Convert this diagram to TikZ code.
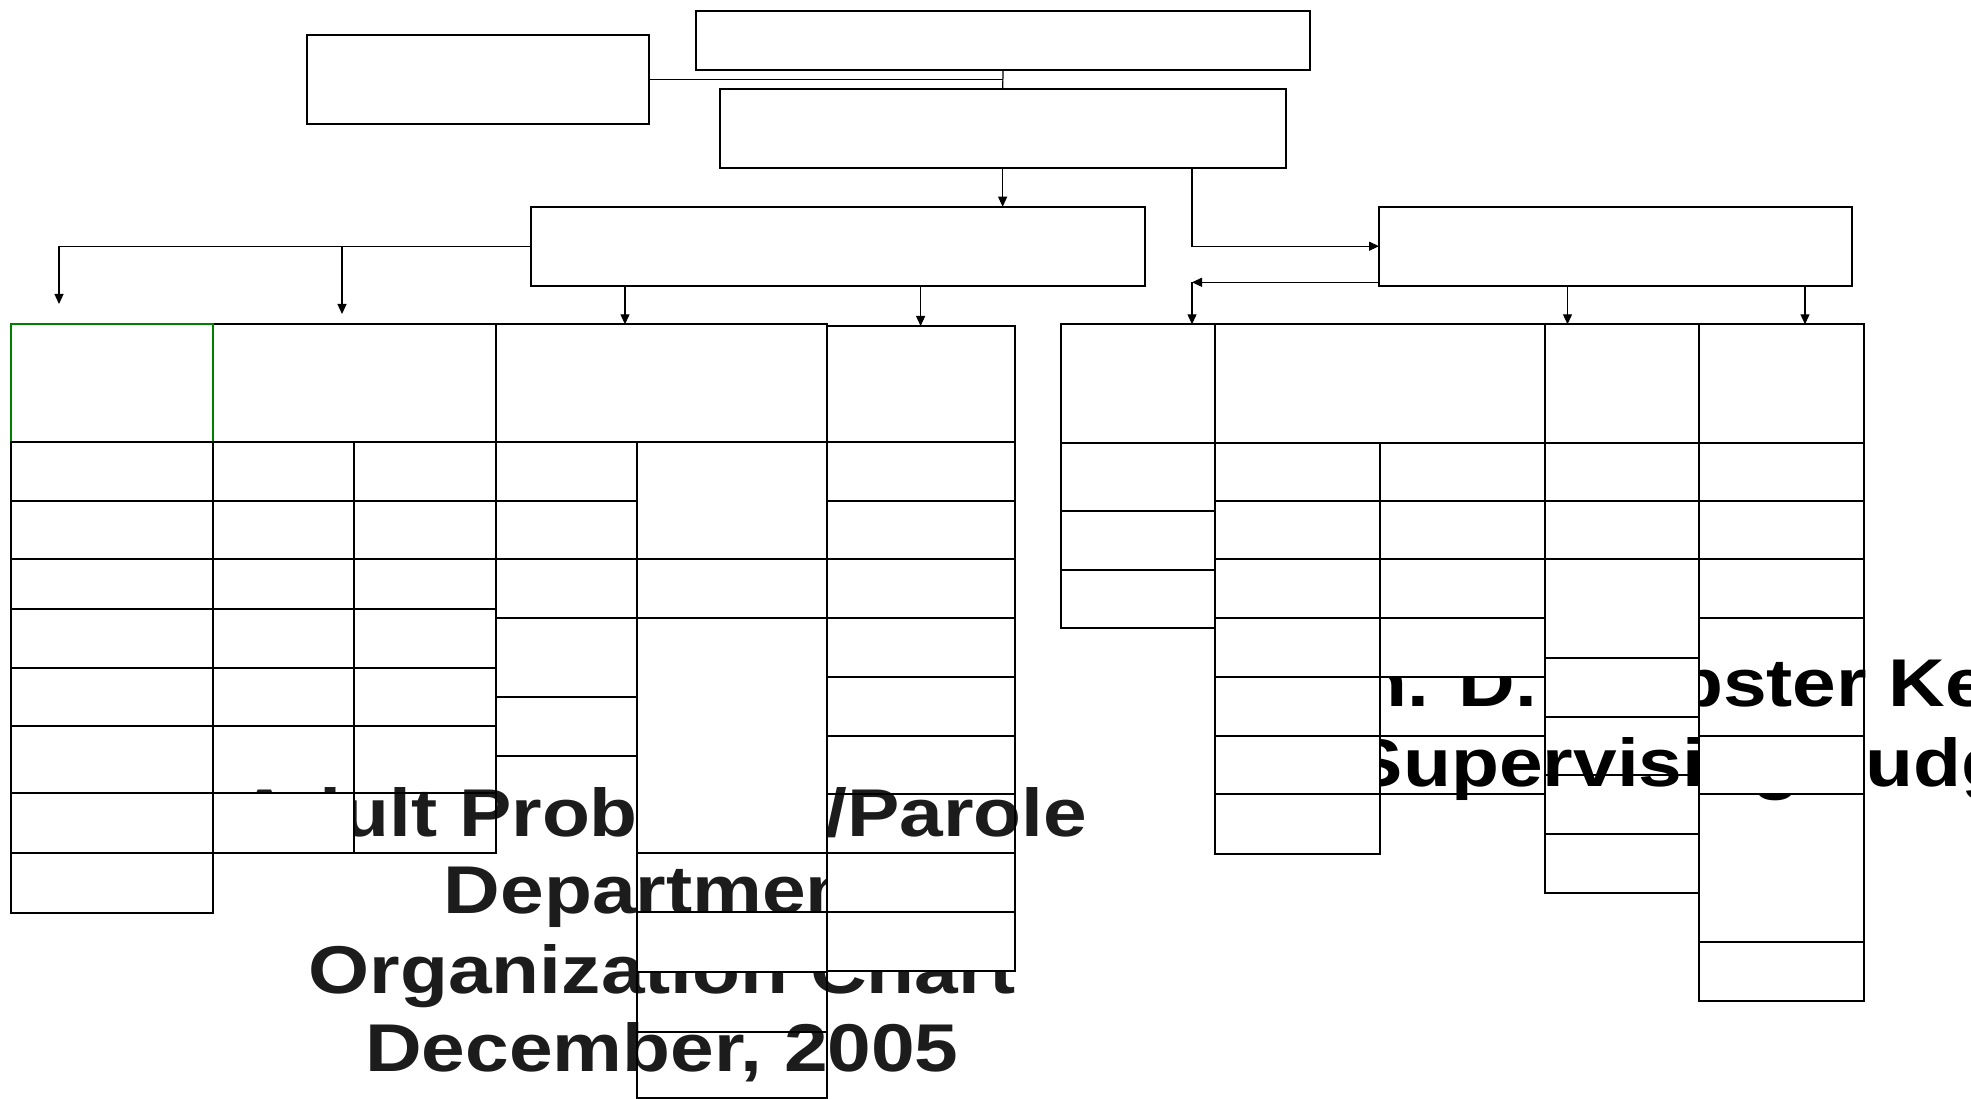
\documentclass[tikz,border=0pt]{standalone}
\usepackage{fontspec}
\setmainfont{Liberation Sans}
\usepackage{graphicx}
\usetikzlibrary{arrows.meta,calc}
\definecolor{hgreen}{RGB}{0,128,0}
\definecolor{titlegray}{RGB}{28,28,28}
\newcommand{\cellnode}[6][]{%
  \pgfmathsetmacro{\cellcx}{(#3+#5)/2}%
  \pgfmathsetmacro{\cellcy}{(#4+#6)/2}%
  \pgfmathsetmacro{\cellw}{#5-#3}%
  \pgfmathsetmacro{\cellh}{#6-#4}%
  \node[cellbox,minimum width=\cellw pt,minimum height=\cellh pt,#1] (#2) at (\cellcx,\cellcy) {};%
}
\begin{document}
\begin{tikzpicture}[x=1pt,y=-1pt,
  cellbox/.style={rectangle,draw=black,line width=2pt,fill=white,inner sep=0pt,outer sep=0pt},
  openbox/.style={fill=none},
  conn/.style={draw=black,line width=1.2pt},
  arr/.style={conn,-{Triangle[length=10pt,width=9pt]}},
  titletext/.style={inner sep=0pt,outer sep=0pt,anchor=base,font=\fontsize{67.6pt}{78pt}\selectfont\bfseries}
]
\useasboundingbox[fill=white] (0,0) rectangle (1971,1099);

% ---------- top boxes ----------
\cellnode{B1}{696.4}{10.7}{1309.8}{69.7}
\cellnode{B2}{307}{35}{649}{123.7}
\cellnode{B3}{719.6}{89}{1285.7}{168}
\cellnode{B4}{531}{206.7}{1144.6}{285.7}
\cellnode{B5}{1379}{206.7}{1851.6}{285.7}

% ---------- left group ----------
\cellnode{H2}{213}{324.3}{495.6}{441.7}
\cellnode{H3}{495.6}{324.3}{826.5}{441.7}
\cellnode{H4}{826.5}{326}{1014.7}{441.7}
\cellnode[draw=hgreen]{H1}{11.4}{324.3}{213}{441.7}
% column A
\cellnode{a1}{11.4}{441.7}{213}{501}
\cellnode{a2}{11.4}{501}{213}{559.3}
\cellnode{a3}{11.4}{559.3}{213}{608.7}
\cellnode{a4}{11.4}{608.7}{213}{667.7}
\cellnode{a5}{11.4}{667.7}{213}{726}
\cellnode{a6}{11.4}{726}{213}{793.3}
\cellnode{a7}{11.4}{793.3}{213}{853.3}
\cellnode{a8}{11.4}{853.3}{213}{912.7}
% column B
\cellnode{b1}{213}{441.7}{353.7}{501}
\cellnode{b2}{213}{501}{353.7}{559.3}
\cellnode{b3}{213}{559.3}{353.7}{608.7}
\cellnode{b4}{213}{608.7}{353.7}{667.7}
\cellnode{b5}{213}{667.7}{353.7}{726}
% column C
\cellnode{c1}{353.7}{441.7}{495.6}{501}
\cellnode{c2}{353.7}{501}{495.6}{559.3}
\cellnode{c3}{353.7}{559.3}{495.6}{608.7}
\cellnode{c4}{353.7}{608.7}{495.6}{667.7}
\cellnode{c5}{353.7}{667.7}{495.6}{726}
% column D
\cellnode{d1}{495.6}{441.7}{637}{501}
\cellnode{d2}{495.6}{501}{637}{559.3}
\cellnode{d3}{495.6}{559.3}{637}{618.3}
\cellnode{d4}{495.6}{618.3}{637}{696.7}
\cellnode{d5}{495.6}{696.7}{637}{755.7}
\cellnode{d6}{495.6}{755.7}{637}{853.3}
% column E
\cellnode{e1}{637}{441.7}{826.5}{559.3}
\cellnode{e2}{637}{559.3}{826.5}{618.3}
% column F
\cellnode{f1}{826.5}{441.7}{1014.7}{501}
\cellnode{f2}{826.5}{501}{1014.7}{559.3}
\cellnode{f3}{826.5}{559.3}{1014.7}{618.3}
\cellnode{f4}{826.5}{618.3}{1014.7}{676.7}
\cellnode{f5}{826.5}{676.7}{1014.7}{736}

% ---------- right group ----------
\cellnode{PH}{1061.4}{324.3}{1215.2}{442.7}
\cellnode{QH}{1215.2}{324.3}{1545.3}{442.7}
\cellnode{SH}{1545.3}{324.3}{1699.2}{442.7}
\cellnode{TH}{1699.2}{324.3}{1863.6}{442.7}
\cellnode{p1}{1061.4}{442.7}{1215.2}{510.7}
\cellnode{p2}{1061.4}{510.7}{1215.2}{570}
\cellnode{p3}{1061.4}{570}{1215.2}{628.3}
\cellnode{q1}{1215.2}{442.7}{1380.3}{501}
\cellnode{q2}{1215.2}{501}{1380.3}{559.3}
\cellnode{q3}{1215.2}{559.3}{1380.3}{618.3}
\cellnode{q7}{1215.2}{794.3}{1380.3}{854}
\cellnode{r1}{1380.3}{442.7}{1545.3}{501}
\cellnode{r2}{1380.3}{501}{1545.3}{559.3}
\cellnode{r3}{1380.3}{559.3}{1545.3}{618.3}
\cellnode{r5}{1380.3}{676.7}{1545.3}{735.7}
\cellnode{r6}{1380.3}{735.7}{1545.3}{794.3}
\cellnode{s1}{1545.3}{442.7}{1699.2}{501}
\cellnode{s2}{1545.3}{501}{1699.2}{559.3}
\cellnode{s3}{1545.3}{559.3}{1699.2}{657.7}
\cellnode{s5}{1545.3}{716.7}{1699.2}{775}
\cellnode{s6}{1545.3}{775}{1699.2}{834.3}
\cellnode{s7}{1545.3}{834.3}{1699.2}{893.3}
\cellnode{t1}{1699.2}{442.7}{1863.6}{501}
\cellnode{t2}{1699.2}{501}{1863.6}{559.3}
\cellnode{t3}{1699.2}{559.3}{1863.6}{618.3}
\cellnode{t4}{1699.2}{618.3}{1863.6}{735.7}
\cellnode{t6}{1699.2}{794.3}{1863.6}{942.3}
\cellnode{t7}{1699.2}{942.3}{1863.6}{1000.7}

% ---------- connectors ----------
\coordinate (xA) at (59,304);
\coordinate (xB) at (342,314);
\coordinate (xH3) at (625,0);
\coordinate (xJ) at (1192,0);
\coordinate (j5) at (1192,282.3);
\coordinate (xS) at (1567.5,0);
\coordinate (xT) at (1805,0);
\draw[conn] (B1.south) -- (B3.north);
\draw[conn] (B2.east) -- (B2.east -| B1.south);
\draw[arr] (B3.south) -- (B3.south |- B4.north);
\draw[arr] (B3.south -| xJ) |- (B5.west);
\draw[arr] (B4.west) -| (xA);
\draw[arr] (B4.west -| xB) -- (xB);
\draw[arr] (B4.south -| xH3) -- (H3.north -| xH3);
\draw[arr] (B4.south -| H4.north) -- (H4.north);
\draw[arr] (B5.west |- j5) -- (j5);
\draw[arr] (j5) -- (j5 |- PH.north);
\draw[arr] (B5.south -| xS) -- (SH.north -| xS);
\draw[arr] (B5.south -| xT) -- (TH.north -| xT);

% ---------- title text frame and titles ----------
\node[fill=white,inner sep=0pt,outer sep=0pt,minimum width=815pt,minimum height=324pt,anchor=north west] (titleframe) at (225,775) {};
\node[titletext,text=titlegray] (tl1) at (662,836) {\scalebox{1.161}[1]{Adult Probation/Parole}};
\node[titletext,text=titlegray] (tl2) at (662,913.3) {\scalebox{1.161}[1]{Department}};
\node[titletext,text=titlegray] (tl3) at (662,993.3) {\scalebox{1.161}[1]{Organization Chart}};
\node[titletext,text=titlegray] (tl4) at (662,1071.7) {\scalebox{1.161}[1]{December, 2005}};
\node[titletext,text=black] (tr1) at (1694,706.7) {\scalebox{1.161}[1]{Hon. D. Webster Keogh}};
\node[titletext,text=black] (tr2) at (1702,786.7) {\scalebox{1.161}[1]{Supervising Judge}};

% ---------- boxes lying over the titles ----------
\cellnode[openbox]{b6}{213}{726}{353.7}{793.3}
\cellnode{b7}{213}{793.3}{353.7}{853.3}
\cellnode[openbox]{c6}{353.7}{726}{495.6}{793.3}
\cellnode[openbox]{c7}{353.7}{793.3}{495.6}{853.3}
\cellnode{e3}{637}{618.3}{826.5}{853.3}
\cellnode[openbox]{e4}{637}{853.3}{826.5}{911.7}
\cellnode{e5}{637}{911.7}{826.5}{971.7}
\cellnode[openbox]{e6}{637}{971.7}{826.5}{1031.7}
\cellnode[openbox]{e7}{637}{1031.7}{826.5}{1098.3}
\cellnode[openbox]{f6}{826.5}{736}{1014.7}{794}
\cellnode[openbox]{f7}{826.5}{794}{1014.7}{853.3}
\cellnode{f8}{826.5}{853.3}{1014.7}{912}
\cellnode{f9}{826.5}{912}{1014.7}{971}
\cellnode{q4}{1215.2}{618.3}{1380.3}{676.7}
\cellnode{q5}{1215.2}{676.7}{1380.3}{735.7}
\cellnode{q6}{1215.2}{735.7}{1380.3}{794.3}
\cellnode{r4}{1380.3}{618.3}{1545.3}{676.7}
\cellnode{s4}{1545.3}{657.7}{1699.2}{716.7}
\cellnode{t5}{1699.2}{735.7}{1863.6}{794.3}
\end{tikzpicture}
\end{document}
